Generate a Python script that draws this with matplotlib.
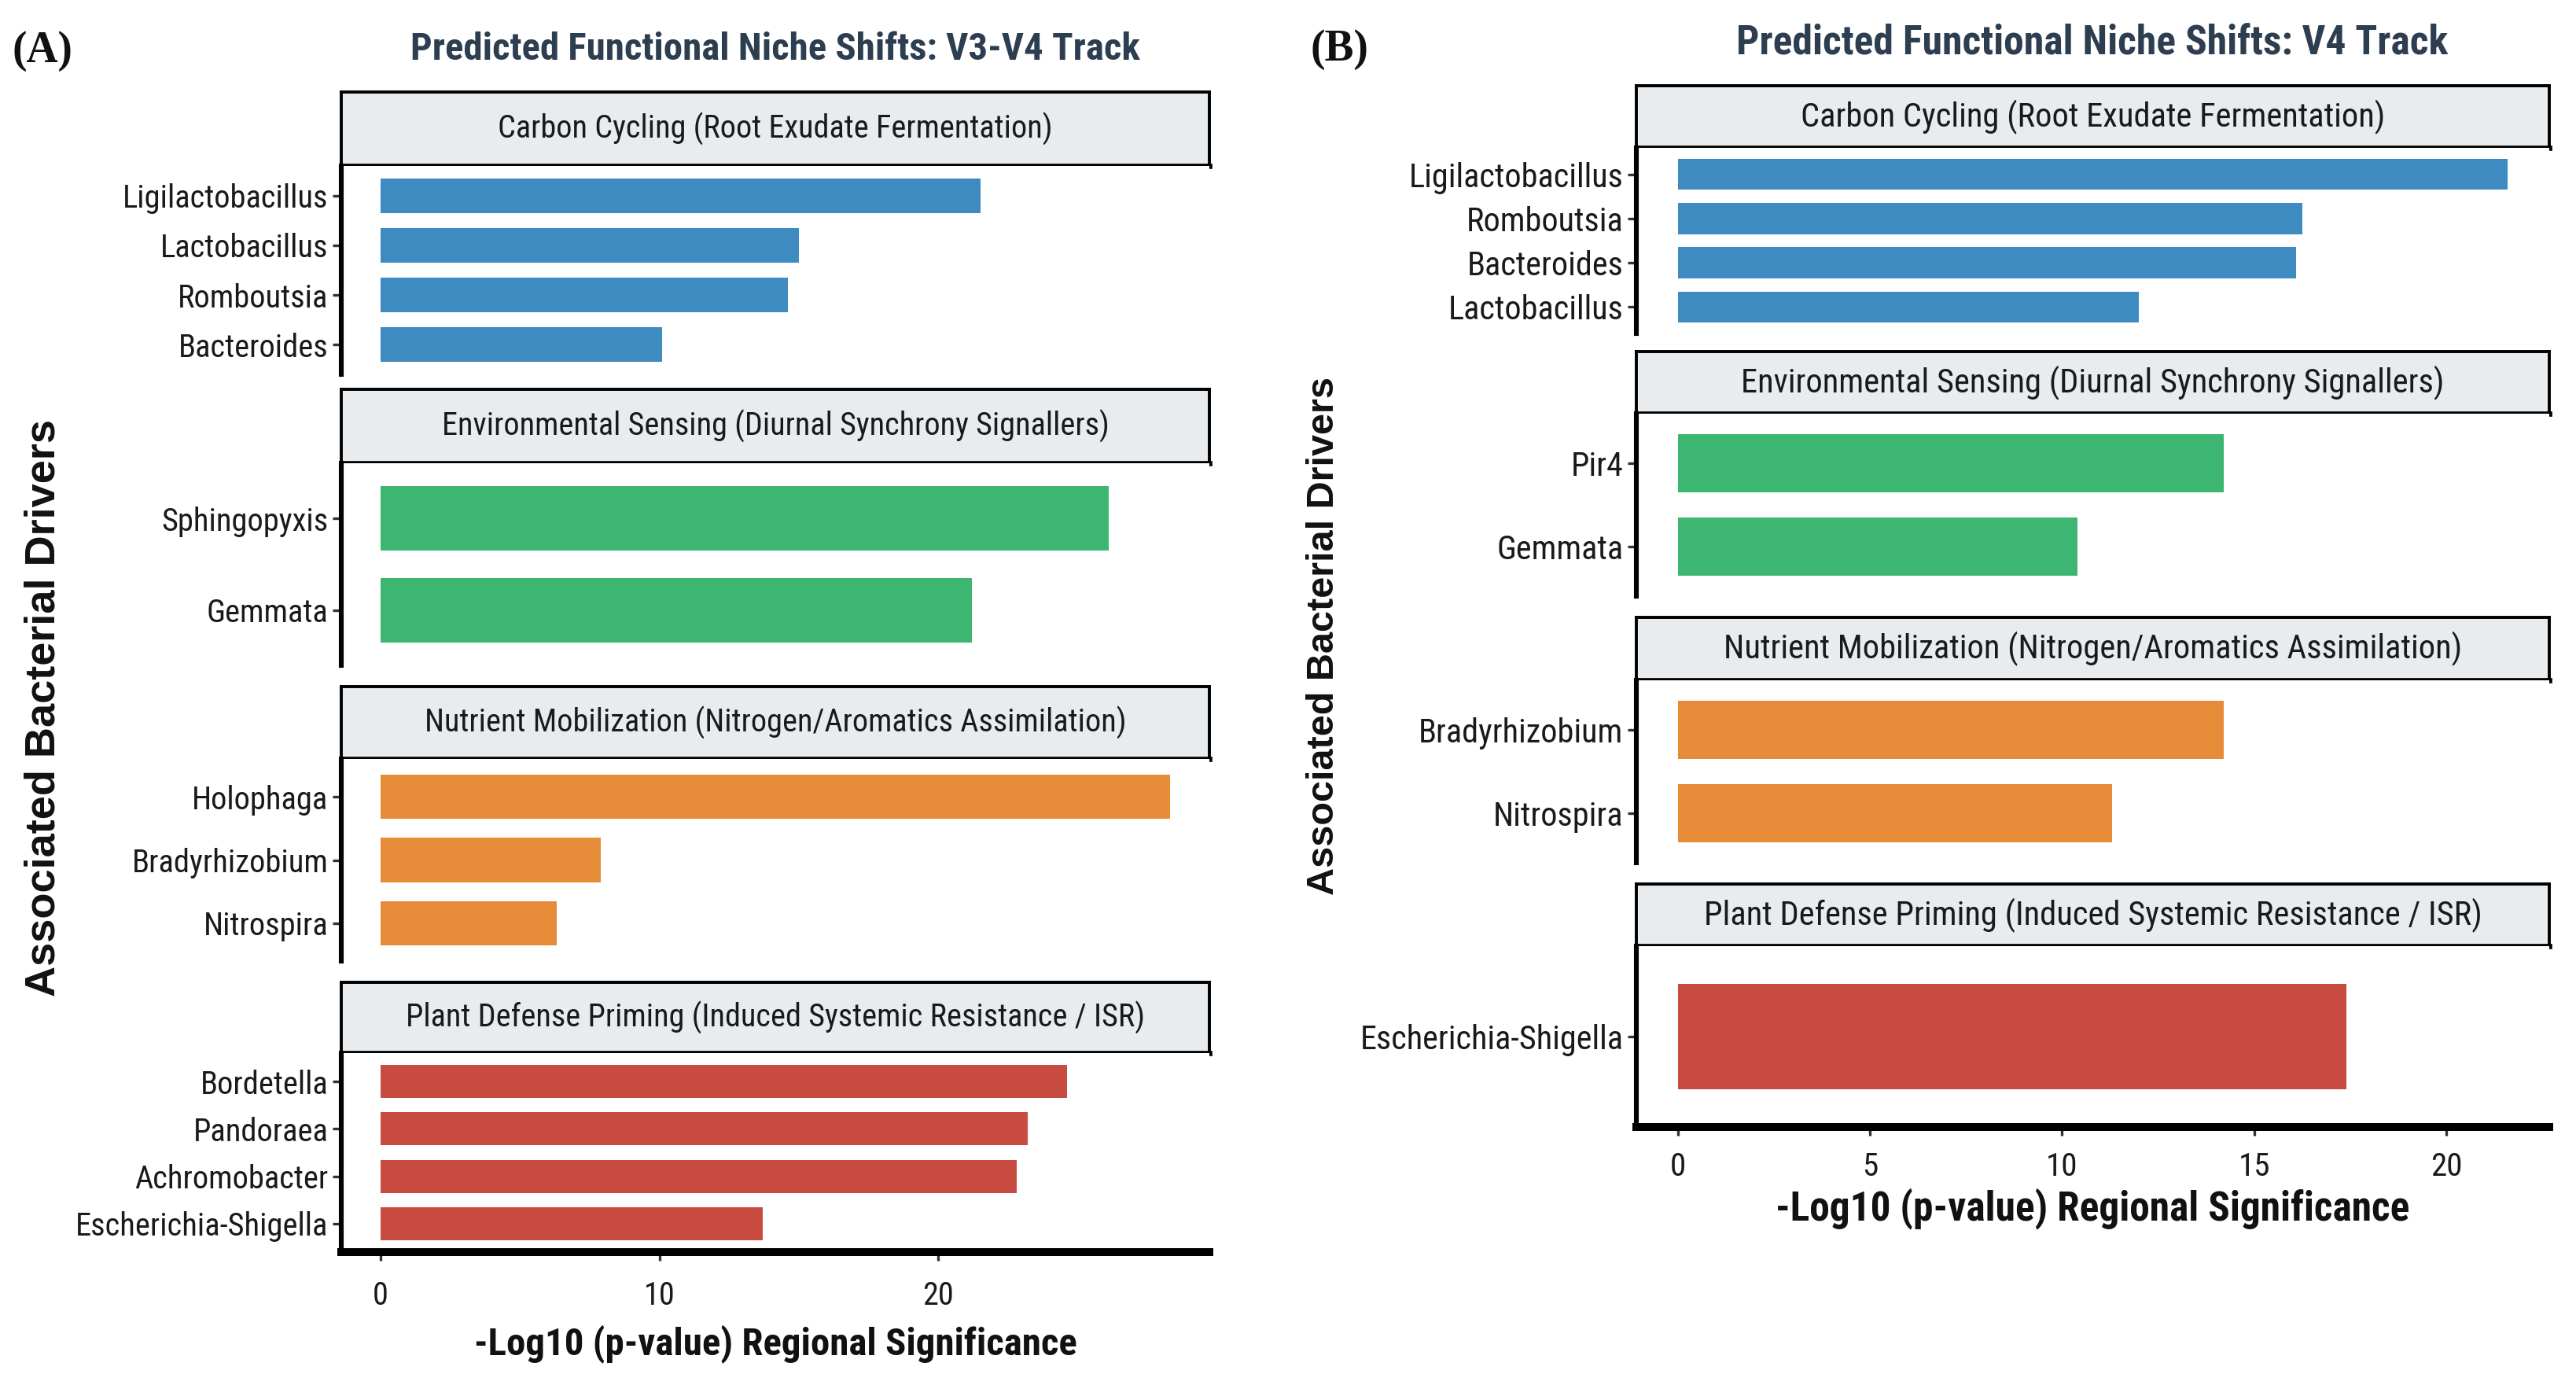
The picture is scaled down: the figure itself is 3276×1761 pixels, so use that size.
import matplotlib
matplotlib.use('Agg')
import matplotlib.pyplot as plt
from matplotlib import font_manager

# fuente angosta si existe
names = {f.name for f in font_manager.fontManager.ttflist}
narrow = next((n for n in ['Liberation Sans Narrow', 'Arial Narrow', 'Roboto Condensed']
               if n in names), 'Liberation Sans')

groups = ['Carbon Cycling (Root Exudate Fermentation)',
          'Environmental Sensing (Diurnal Synchrony Signallers)',
          'Nutrient Mobilization (Nitrogen/Aromatics Assimilation)',
          'Plant Defense Priming (Induced Systemic Resistance / ISR)']
group_colors = ['#3D8BC1', '#3CB670', '#E68B37', '#C74B3F']

# Panel A: V3-V4
v3v4_carbon_taxa = ['Ligilactobacillus', 'Lactobacillus', 'Romboutsia', 'Bacteroides']
v3v4_carbon_vals = [21.5, 15.0, 14.6, 10.1]
v3v4_env_taxa = ['Sphingopyxis', 'Gemmata']
v3v4_env_vals = [26.1, 21.2]
v3v4_nutr_taxa = ['Holophaga', 'Bradyrhizobium', 'Nitrospira']
v3v4_nutr_vals = [28.3, 7.9, 6.3]
v3v4_plant_taxa = ['Bordetella', 'Pandoraea', 'Achromobacter', 'Escherichia-Shigella']
v3v4_plant_vals = [24.6, 23.2, 22.8, 13.7]

# Panel B: V4
v4_carbon_taxa = ['Ligilactobacillus', 'Romboutsia', 'Bacteroides', 'Lactobacillus']
v4_carbon_vals = [21.6, 16.25, 16.1, 12.0]
v4_env_taxa = ['Pir4', 'Gemmata']
v4_env_vals = [14.2, 10.4]
v4_nutr_taxa = ['Bradyrhizobium', 'Nitrospira']
v4_nutr_vals = [14.2, 11.3]
v4_plant_taxa = ['Escherichia-Shigella']
v4_plant_vals = [17.4]

W, H = 3276, 1761
fig = plt.figure(figsize=(W / 200, H / 200), dpi=200)


def add_ax(left, top, right, bottom):
    return fig.add_axes([left / W, 1 - bottom / H, (right - left) / W, (bottom - top) / H])


def draw_track(taxa_lists, val_lists, left, right, strips, panels, xticks, fs):
    xmax = max(max(v) for v in val_lists)
    n = len(taxa_lists)
    for i in range(n):
        taxa, vals = taxa_lists[i], val_lists[i]
        st, sb = strips[i]
        pt, pb = panels[i]

        # tira del facet
        sax = add_ax(left, st, right, sb)
        sax.set_facecolor('#E9ECEF')
        sax.set_xticks([])
        sax.set_yticks([])
        for s in sax.spines.values():
            s.set_linewidth(1.4)
        sax.spines['bottom'].set_linewidth(2.4)
        sax.text(0.5, 0.5, groups[i], ha='center', va='center',
                 fontsize=fs['strip'], family=narrow, color='#1a1a1a')

        ax = add_ax(left, pt, right, pb)
        y = list(range(len(taxa)))
        ax.barh(y, vals, height=0.7, color=group_colors[i], linewidth=0)
        ax.set_ylim(len(taxa) - 0.4, -0.6)
        ax.set_yticks(y, taxa)
        ax.set_xlim(-0.05 * xmax, 1.05 * xmax)
        ax.spines['top'].set_visible(False)
        ax.spines['right'].set_visible(False)
        ax.spines['left'].set_linewidth(2.2)
        ax.tick_params(axis='y', length=4, width=1.2, color='#333333', pad=2,
                       labelsize=fs['ytick'], labelcolor='#1a1a1a')
        for lab in ax.get_yticklabels():
            lab.set_family(narrow)
        if i == n - 1:
            ax.spines['bottom'].set_linewidth(3.6)
            ax.set_xticks(xticks)
            ax.tick_params(axis='x', length=4, width=1.2, color='#333333', pad=fs['xpad'],
                           labelsize=fs['xtick'], labelcolor='#1a1a1a')
            for lab in ax.get_xticklabels():
                lab.set_family(narrow)
        else:
            ax.spines['bottom'].set_visible(False)
            ax.set_xticks([])


fs_a = dict(strip=14.5, ytick=14.6, xtick=14.5, xpad=9)
draw_track([v3v4_carbon_taxa, v3v4_env_taxa, v3v4_nutr_taxa, v3v4_plant_taxa],
           [v3v4_carbon_vals, v3v4_env_vals, v3v4_nutr_vals, v3v4_plant_vals],
           434, 1538,
           [(117, 211), (495, 589), (873, 965), (1249, 1339)],
           [(211, 476), (589, 846), (965, 1222), (1339, 1592)],
           [0, 10, 20], fs_a)

fs_b = dict(strip=15.3, ytick=15.2, xtick=14.8, xpad=7)
draw_track([v4_carbon_taxa, v4_env_taxa, v4_nutr_taxa, v4_plant_taxa],
           [v4_carbon_vals, v4_env_vals, v4_nutr_vals, v4_plant_vals],
           2081, 3242,
           [(109, 188), (447, 526), (785, 865), (1124, 1203)],
           [(188, 424), (526, 758), (865, 1097), (1203, 1433)],
           [0, 5, 10, 15, 20], fs_b)

# titulos y etiquetas
fig.text(986 / W, 1 - 63 / H, 'Predicted Functional Niche Shifts: V3-V4 Track', ha='center', va='center',
         fontsize=17.6, fontweight='bold', family=narrow, color='#2C3E50')
fig.text(2661 / W, 1 - 55 / H, 'Predicted Functional Niche Shifts: V4 Track', ha='center', va='center',
         fontsize=18.6, fontweight='bold', family=narrow, color='#2C3E50')
fig.text(986 / W, 1 - 1709 / H, '-Log10 (p-value) Regional Significance', ha='center', va='center',
         fontsize=17.6, fontweight='bold', family=narrow, color='#111111')
fig.text(2661 / W, 1 - 1537 / H, '-Log10 (p-value) Regional Significance', ha='center', va='center',
         fontsize=18.5, fontweight='bold', family=narrow, color='#111111')
fig.text(56 / W, 1 - 900 / H, 'Associated Bacterial Drivers', rotation=90, ha='center', va='center',
         fontsize=19.5, fontweight='bold', family='Liberation Sans', color='#111111')
fig.text(1684 / W, 1 - 809 / H, 'Associated Bacterial Drivers', rotation=90, ha='center', va='center',
         fontsize=17.5, fontweight='bold', family='Liberation Sans', color='#111111')
fig.text(54 / W, 1 - 65 / H, '(A)', ha='center', va='center', fontsize=20, fontweight='bold',
         family='Liberation Serif', color='#111111')
fig.text(1703 / W, 1 - 63 / H, '(B)', ha='center', va='center', fontsize=20, fontweight='bold',
         family='Liberation Serif', color='#111111')

fig.savefig('out.png', dpi=200, facecolor='white')
